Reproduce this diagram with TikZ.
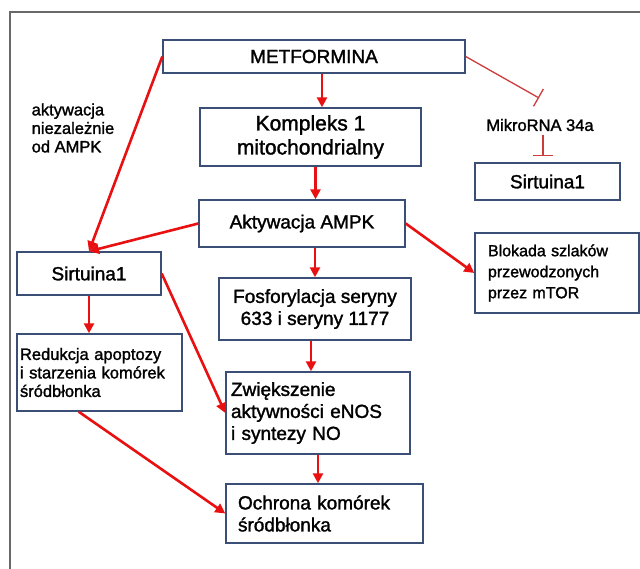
\documentclass[tikz,border=0pt]{standalone}
\usepackage{fontspec}
\setmainfont{Liberation Sans}[RawFeature={embolden=1.5}]
\usetikzlibrary{arrows.meta,positioning}
\definecolor{boxblue}{RGB}{58,78,118}
\definecolor{arrred}{RGB}{232,16,16}
\definecolor{inhred}{RGB}{205,60,60}
\definecolor{framegray}{RGB}{105,105,105}
\tikzset{
 box/.style={draw=boxblue,line width=1.4pt,fill=white,inner sep=0pt,align=center},
 txt/.style={font=\fontsize{19}{22}\selectfont},
 small/.style={font=\fontsize{16.5}{18.5}\selectfont},
 act/.style={draw=arrred,line width=2.6pt,-{Triangle[length=10pt,width=10pt]}},
 inh/.style={draw=inhred,line width=1.3pt,-{Bar[width=20pt]}}
}
\begin{document}
\begin{tikzpicture}[x=1pt,y=-1pt]
\useasboundingbox (0,0) rectangle (640,569);
\draw[framegray,line width=2pt] (10,569) -- (10,12) -- (640,12);
\node[box,txt,minimum width=302pt,minimum height=33pt] (met) at (314,56.5) {METFORMINA};
\node[box,font=\fontsize{21}{24}\selectfont,minimum width=221pt,minimum height=58pt] (kom) at (310.5,137) {Kompleks 1\\mitochondrialny};
\node[font=\fontsize{16.5}{18}\selectfont] (mir) at (540,125) {MikroRNA 34a};
\node[box,txt,minimum width=145pt,minimum height=37pt] (sirtR) at (547.5,181.5) {Sirtuina1};
\node[box,txt,minimum width=206pt,minimum height=47pt] (ampk) at (302,223.5) {Aktywacja AMPK};
\node[box,font=\fontsize{16}{21}\selectfont,align=left,text width=138pt,inner xsep=13pt,minimum height=80pt] (blok) at (557,273) {Blokada szlaków\\przewodzonych\\przez mTOR};
\node[box,txt,minimum width=144pt,minimum height=43pt] (sirtL) at (89,273.5) {Sirtuina1};
\node[box,txt,minimum width=192pt,minimum height=62pt] (fosf) at (315,309) {Fosforylacja seryny\\633 i seryny 1177};
\node[box,small,align=left,text width=159pt,inner xsep=3pt,minimum height=77pt] (red) at (99.5,372.5) {Redukcja apoptozy\\i starzenia komórek\\śródbłonka};
\node[box,txt,align=left,text width=174pt,inner xsep=5pt,minimum height=82pt] (zwi) at (318,413) {Zwiększenie\\aktywności eNOS\\i syntezy NO};
\node[box,txt,align=left,text width=173pt,inner xsep=12pt,minimum height=59pt] (och) at (324.5,513.5) {Ochrona komórek\\śródbłonka};
\node[small,align=left] (akt) at (73,128) {aktywacja\\niezależnie\\od AMPK};
\coordinate (mirtop) at (539,98);
\draw[act] ([xshift=8pt]met.south) -- ([xshift=8pt]met.south |- kom.north);
\draw[act] ([xshift=5pt]kom.south) -- ([xshift=5pt]kom.south |- ampk.north);
\draw[act] (met.west) -- (sirtL.north);
\draw[act] (ampk.west) -- (sirtL.north);
\draw[act] (ampk.east) -- (blok.west);
\draw[act] (fosf.north |- ampk.south) -- (fosf.north);
\draw[act] ([xshift=-4pt]fosf.south) -- ([xshift=-4pt]fosf.south |- zwi.north);
\draw[act] (sirtL.south) -- (sirtL.south |- red.north);
\draw[act] (sirtL.east) -- (zwi.west);
\draw[act] (red.242) -- (och.west);
\draw[act] (zwi.south) -- (zwi.south |- och.north);
\draw[inh] (met.east) -- (mirtop);
\draw[inh,shorten >=6pt] ([xshift=3pt]mir.south) -- ([xshift=3pt]mir.south |- sirtR.north);
\end{tikzpicture}
\end{document}
